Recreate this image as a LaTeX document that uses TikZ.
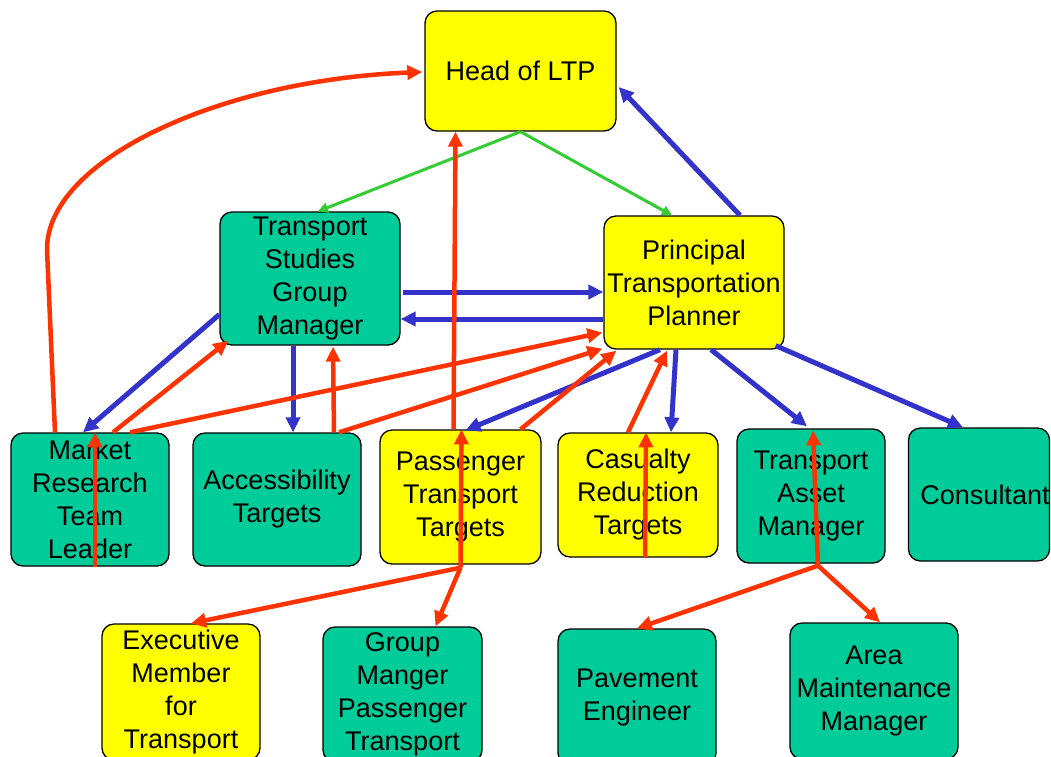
\documentclass[tikz,border=0pt]{standalone}
\usepackage{fontspec}
\setmainfont{Liberation Sans}
\usetikzlibrary{arrows.meta,calc}
\definecolor{boxgreen}{RGB}{0,204,153}
\definecolor{boxyellow}{RGB}{255,255,0}
\definecolor{lred}{RGB}{255,51,0}
\definecolor{lblue}{RGB}{51,51,204}
\definecolor{lgreen}{RGB}{51,204,51}
\begin{document}
\begin{tikzpicture}[x=1pt,y=-1pt,
  box/.style={draw=black, line width=1.3pt, rounded corners=12pt, inner sep=0pt, align=center, font=\fontsize{27}{33}\selectfont},
  gbox/.style={box, fill=boxgreen},
  ybox/.style={box, fill=boxyellow},
  redline/.style={draw=lred, line width=4.5pt, -{Triangle[length=15pt,width=14pt]}},
  blueline/.style={draw=lblue, line width=5pt, -{Triangle[length=15pt,width=14pt]}},
  greenline/.style={draw=lgreen, line width=3pt, -{Triangle[length=10pt,width=10pt]}}
]
\useasboundingbox (0,0) rectangle (1051,756);
\clip (0,0) rectangle (1051,756);
\fill[white] (0,0) rectangle (1051,756);

\node[ybox, minimum width=191pt, minimum height=120pt] (head) at (520.5,71) {Head of LTP};
\node[gbox, minimum width=180pt, minimum height=133pt] (tsgm) at (310,278.5) {Transport\\Studies\\Group\\Manager};
\node[ybox, minimum width=180pt, minimum height=133pt] (ptp) at (694,282.5) {Principal\\Transportation\\Planner};
\node[gbox, minimum width=158pt, minimum height=133pt] (mrtl) at (90,499.5) {Market\\Research\\Team\\Leader};
\node[gbox, minimum width=168pt, minimum height=133pt] (acc) at (277,499.5) {Accessibility\\Targets};
\node[ybox, minimum width=161pt, minimum height=134pt] (ptt) at (460.5,497) {Passenger\\Transport\\Targets};
\node[ybox, minimum width=160pt, minimum height=124pt] (crt) at (638,495) {Casualty\\Reduction\\Targets};
\node[gbox, minimum width=148pt, minimum height=134pt] (tam) at (811,496) {Transport\\Asset\\Manager};
\node[gbox, minimum width=140pt, minimum height=133pt] (cons) at (979,494.5) {\hspace*{12pt}Consultant};
\node[ybox, minimum width=158pt, minimum height=136pt] (exec) at (181,692) {Executive\\Member\\for\\Transport};
\node[gbox, minimum width=159pt, minimum height=135pt] (gmpt) at (402.5,694.5) {Group\\Manger\\Passenger\\Transport};
\node[gbox, minimum width=158pt, minimum height=136pt] (pave) at (637,697) {Pavement\\Engineer};
\node[gbox, minimum width=168pt, minimum height=136pt] (amm) at (874,691) {Area\\Maintenance\\Manager};

\coordinate (pttb) at ($(ptt.south)+(0,3)$);
\coordinate (tamb) at ($(tam.south)+(7,2)$);

% green
\draw[greenline] (head.south) -- ($(tsgm.north)+(8,0)$);
\draw[greenline] (head.south) -- ($(ptp.north)+(-22,0)$);

% blue
\draw[blueline] ($(ptp.north)+(46,0)$) -- ($(head.east)+(2,16)$);
\draw[blueline] ($(tsgm.east)+(2,13.5)$) -- ($(ptp.west)+(0,9.5)$);
\draw[blueline] ($(ptp.west)+(0,36.5)$) -- ($(tsgm.east)+(0,40.5)$);
\draw[blueline] ($(tsgm.west)+(0,36)$) -- ($(mrtl.north)+(-7,0)$);
\draw[blueline] ($(tsgm.south)+(-17,0)$) -- ($(acc.north)+(16,0)$);
\draw[blueline] ($(ptp.south)+(-34,0)$) -- ($(ptt.north)+(5,1)$);
\draw[blueline] ($(ptp.south)+(-18,0)$) -- ($(crt.north)+(33,0)$);
\draw[blueline] ($(ptp.south)+(17,0)$) -- ($(tam.north)+(-4,-2)$);
\draw[blueline] ($(ptp.south east)+(-9,-4)$) -- ($(cons.north)+(-16,0)$);

% red
\draw[redline] ($(mrtl.north)+(-35,0)$) -- (47,250) .. controls (46,160) and (220,80) .. ($(head.west)+(-2,1)$);
\draw[redline] ($(mrtl.north)+(23,0)$) -- ($(tsgm.south west)+(9,-5)$);
\draw[redline] ($(mrtl.north)+(40,0)$) -- ($(ptp.west)+(-1,50)$);
\draw[redline] ($(mrtl.south)+(5,0)$) -- ($(mrtl.north)+(5,0)$);
\draw[redline] ($(acc.north)+(57,0)$) -- ($(tsgm.south)+(23,1)$);
\draw[redline] ($(acc.north)+(62,0)$) -- ($(ptp.south west)+(-1,-1)$);
\draw[redline] ($(ptt.north)+(60,0)$) -- ($(ptp.south west)+(13,1)$);
\draw[redline] (pttb) -- ($(ptt.north)+(1,0)$);
\draw[redline] ($(ptt.north)+(-7,0)$) -- ($(head.south)+(-65,0)$);
\draw[redline] (pttb) -- ($(exec.north)+(10,0)$);
\draw[redline] (pttb) -- ($(gmpt.north)+(33,0)$);
\draw[redline] ($(crt.north)+(-10,0)$) -- ($(ptp.south)+(-27,1)$);
\draw[redline] ($(crt.south)+(7,0)$) -- ($(crt.north)+(8,0)$);
\draw[redline] (tamb) -- ($(tam.north)+(2,2)$);
\draw[redline] (tamb) -- (pave.north);
\draw[redline] (tamb) -- ($(amm.north)+(6,0)$);
\end{tikzpicture}
\end{document}
